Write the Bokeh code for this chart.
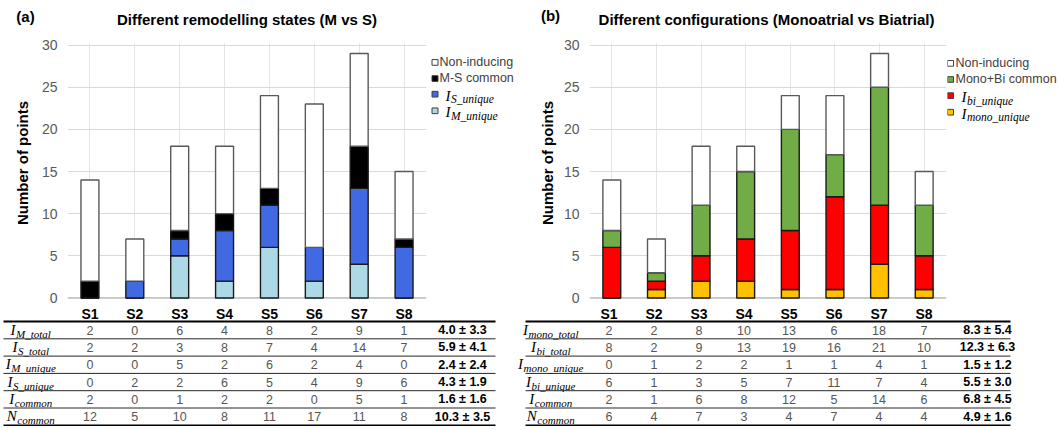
import math
from bokeh.plotting import figure
from bokeh.layouts import row, column
from bokeh.models import Range1d, FactorRange, ColumnDataSource, FixedTicker, Span
from bokeh.core.properties import value
from bokeh.embed import file_html
from bokeh.resources import INLINE

# ---------------- data ----------------
cats = ["S1", "S2", "S3", "S4", "S5", "S6", "S7", "S8"]
y_ticks = [0, 5, 10, 15, 20, 25, 30]

# panel (a): M vs S
a_m_unique = [0, 0, 5, 2, 6, 2, 4, 0]
a_s_unique = [0, 2, 2, 6, 5, 4, 9, 6]
a_common = [2, 0, 1, 2, 2, 0, 5, 1]
a_non = [12, 5, 10, 8, 11, 17, 11, 8]
a_m_total = [2, 0, 6, 4, 8, 2, 9, 1]
a_s_total = [2, 2, 3, 8, 7, 4, 14, 7]
a_stats = ["4.0 ± 3.3", "5.9 ± 4.1", "2.4 ± 2.4", "4.3 ± 1.9", "1.6 ± 1.6", "10.3 ± 3.5"]
a_row_labels = [("I", "M_total"), ("I", "S_total"), ("I", "M_unique"),
                ("I", "S_unique"), ("I", "common"), ("N", "common")]

# panel (b): Monoatrial vs Biatrial
b_mono_unique = [0, 1, 2, 2, 1, 1, 4, 1]
b_bi_unique = [6, 1, 3, 5, 7, 11, 7, 4]
b_common = [2, 1, 6, 8, 12, 5, 14, 6]
b_non = [6, 4, 7, 3, 4, 7, 4, 4]
b_mono_total = [2, 2, 8, 10, 13, 6, 18, 7]
b_bi_total = [8, 2, 9, 13, 19, 16, 21, 10]
b_stats = ["8.3 ± 5.4", "12.3 ± 6.3", "1.5 ± 1.2", "5.5 ± 3.0", "6.8 ± 4.5", "4.9 ± 1.6"]
b_row_labels = [("I", "mono_total"), ("I", "bi_total"), ("I", "mono_unique"),
                ("I", "bi_unique"), ("I", "common"), ("N", "common")]

# ---------------- style / layout ----------------
SANS = "Liberation Sans"
SERIF = "Liberation Serif"
TXT_GRAY = "#404040"
NUM_GRAY = "#555555"
TIMES_IT = {"a": .5, "b": .5, "c": .444, "e": .444, "i": .278, "l": .278, "m": .722,
            "n": .5, "o": .5, "q": .5, "t": .278, "u": .5, "_": .5, "M": .833, "S": .5}

TOTAL_W = 1058
HEADER_H = 35
MID_H = 272
TABLE_H = 123
ROW_S = 17.3


def pix_fig(w, h):
    p = figure(width=w, height=h, x_range=Range1d(0, w), y_range=Range1d(h, 0),
               x_axis_location=None, y_axis_location=None, toolbar_location=None,
               output_backend="svg", min_border=0, outline_line_color=None)
    p.grid.visible = False
    return p


def math_label(p, x, yc, main, sub, main_size, sub_size, align="left"):
    wm = (0.333 if main == "I" else 0.667) * main_size
    ws = sum(TIMES_IT.get(c, 0.5) for c in sub) * sub_size
    x0 = x - (wm + ws) / 2 if align == "center" else x
    p.text(x=[x0], y=[yc], text=[main], text_font=value(SERIF), text_font_style="italic",
           text_font_size=f"{main_size}px", text_baseline="middle", text_align="left",
           text_color="black")
    p.text(x=[x0 + wm + 0.5], y=[yc + 0.27 * main_size], text=[sub], text_font=value(SERIF),
           text_font_style="italic", text_font_size=f"{sub_size}px",
           text_baseline="middle", text_align="left", text_color="black")


def ylabel_fig(w, cx):
    p = pix_fig(w, MID_H)
    p.text(x=[cx], y=[127], text=["Number of points"], angle=math.pi / 2,
           text_font=value(SANS), text_font_style="bold", text_font_size="15px",
           text_align="center", text_baseline="middle", text_color="black")
    return p


def bar_fig(names, columns, fills, lines, left_b, frame_w, right_b):
    data = {"cat": cats}
    for n, c in zip(names, columns):
        data[n] = c
    src = ColumnDataSource(data)
    p = figure(width=left_b + frame_w + right_b, height=MID_H,
               x_range=FactorRange(factors=cats), y_range=Range1d(-0.3, 30.3),
               x_axis_location=None, toolbar_location=None, output_backend="svg",
               min_border_left=left_b, min_border_right=right_b,
               min_border_top=7, min_border_bottom=7, outline_line_color=None)
    p.vbar_stack(names, x="cat", width=0.4, source=src, fill_color=fills,
                 line_color=lines, line_width=1.4)
    ax = p.yaxis[0]
    ax.ticker = FixedTicker(ticks=y_ticks)
    ax.major_label_text_font = SANS
    ax.major_label_text_font_size = "14px"
    ax.major_label_text_color = "#595959"
    ax.axis_line_color = None
    ax.major_tick_line_color = None
    ax.minor_tick_line_color = None
    ax.major_tick_out = 0
    ax.major_label_standoff = 10
    p.ygrid.grid_line_color = "#D9D9D9"
    p.ygrid.grid_line_width = 1
    p.add_layout(Span(location=0, dimension="width", line_color="#BFBFBF",
                      line_width=1.5, level="underlay"))
    return p


def legend_fig(w, items, sq_x, txt_x, math_x):
    p = pix_fig(w, MID_H)
    for kind, label, fill, ys in items:
        p.rect(x=[sq_x], y=[ys], width=6, height=6, fill_color=fill,
               line_color="#404040", line_width=1)
        if kind == "plain":
            p.text(x=[txt_x], y=[ys - 0.5], text=[label], text_font=value(SANS),
                   text_font_size="12.5px", text_color=TXT_GRAY, text_align="left",
                   text_baseline="middle")
        else:
            math_label(p, math_x, ys + 1.5, label[0], label[1], 15, 11.5)
    return p


# panel geometry (pixels of the whole picture)
A = dict(x0=0, ylab_w=36, ylab_cx=22, left_b=31, frame_w=359, right_b=2, leg_w=102,
         sq_x=6.5, txt_x=11, math_x=17, tag="(a)", tag_x=25, tag_y=16,
         title="Different remodelling states (M vs S)",
         label_cx=30, stat_cx=462, line_x=(3, 495))
B = dict(x0=530, ylab_w=30, ylab_cx=17, left_b=26, frame_w=360, right_b=1, leg_w=111,
         sq_x=3, txt_x=8, math_x=14, tag="(b)", tag_x=550, tag_y=15,
         title="Different configurations (Monoatrial vs Biatrial)",
         label_cx=550, stat_cx=987, line_x=(525, 1010))


def frame_left(g):
    return g["x0"] + g["ylab_w"] + g["left_b"]


def col_centers(g):
    slot = g["frame_w"] / len(cats)
    return [frame_left(g) + slot * (i + 0.5) for i in range(len(cats))]


# header
head = pix_fig(TOTAL_W, HEADER_H)
for g in (A, B):
    head.text(x=[g["tag_x"]], y=[g["tag_y"]], text=[g["tag"]], text_font=value(SANS),
              text_font_style="bold", text_font_size="15px", text_align="center",
              text_baseline="middle", text_color="black")
    head.text(x=[frame_left(g) + g["frame_w"] / 2], y=[18.5], text=[g["title"]],
              text_font=value(SANS), text_font_style="bold", text_font_size="15px",
              text_align="center", text_baseline="middle", text_color="black")

# middle row
ylab_a = ylabel_fig(A["ylab_w"], A["ylab_cx"])
bars_a = bar_fig(["m_unique", "s_unique", "common", "non"],
                 [a_m_unique, a_s_unique, a_common, a_non],
                 ["#ADD8E6", "#4169E1", "black", "white"],
                 ["#1a1a1a", "#1a1a1a", "#1a1a1a", "#595959"],
                 A["left_b"], A["frame_w"], A["right_b"])
leg_a = legend_fig(A["leg_w"], [("plain", "Non-inducing", "white", 21),
                                ("plain", "M-S common", "black", 38),
                                ("math", ("I", "S_unique"), "#4169E1", 54.5),
                                ("math", ("I", "M_unique"), "#ADD8E6", 72)],
                   A["sq_x"], A["txt_x"], A["math_x"])

ylab_b = ylabel_fig(B["ylab_w"], B["ylab_cx"])
bars_b = bar_fig(["mono_unique", "bi_unique", "common", "non"],
                 [b_mono_unique, b_bi_unique, b_common, b_non],
                 ["#FFC000", "#FF0000", "#70AD47", "white"],
                 ["#1a1a1a", "#1a1a1a", "#1a1a1a", "#595959"],
                 B["left_b"], B["frame_w"], B["right_b"])
leg_b = legend_fig(B["leg_w"], [("plain", "Non-inducing", "white", 22),
                                ("plain", "Mono+Bi common", "#70AD47", 39),
                                ("math", ("I", "bi_unique"), "#FF0000", 56),
                                ("math", ("I", "mono_unique"), "#FFC000", 73.5)],
                   B["sq_x"], B["txt_x"], B["math_x"])

# table
tab = pix_fig(TOTAL_W, TABLE_H)
TOP = 14
for g, rows, labels, stats in ((A, [a_m_total, a_s_total, a_m_unique, a_s_unique, a_common, a_non],
                                a_row_labels, a_stats),
                               (B, [b_mono_total, b_bi_total, b_mono_unique, b_bi_unique, b_common, b_non],
                                b_row_labels, b_stats)):
    cx = col_centers(g)
    x1, x2 = g["line_x"]
    tab.text(x=cx, y=[6] * len(cats), text=cats, text_font=value(SANS),
             text_font_style="bold", text_font_size="14px", text_align="center",
             text_baseline="middle", text_color="black")
    tab.segment(x0=[x1], y0=[TOP], x1=[x2], y1=[TOP], line_color="black", line_width=2)
    for k, vals in enumerate(rows):
        yc = TOP + ROW_S * (k + 0.5)
        tab.text(x=cx, y=[yc] * len(vals), text=[str(v) for v in vals],
                 text_font=value(SANS), text_font_size="12.5px", text_align="center",
                 text_baseline="middle", text_color=NUM_GRAY)
        tab.text(x=[g["stat_cx"]], y=[yc], text=[stats[k]], text_font=value(SANS),
                 text_font_style="bold", text_font_size="12.5px", text_align="center",
                 text_baseline="middle", text_color="black")
        math_label(tab, g["label_cx"], yc - 0.5, labels[k][0], labels[k][1], 15, 11, align="center")
        yl = TOP + ROW_S * (k + 1)
        last = k == len(rows) - 1
        tab.segment(x0=[x1], y0=[yl], x1=[x2], y1=[yl],
                    line_color="black" if last else "#262626",
                    line_width=1.5 if last else 1)

layout = column(head, row(ylab_a, bars_a, leg_a, ylab_b, bars_b, leg_b), tab)

with open("out.html", "w", encoding="utf-8") as f:
    f.write(file_html(layout, INLINE))
